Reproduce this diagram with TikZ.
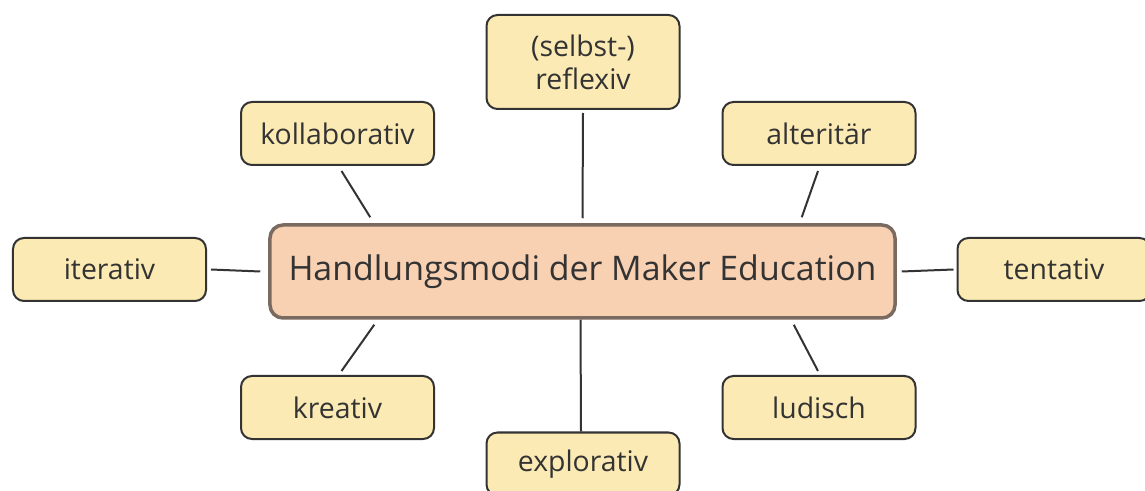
\documentclass[tikz,border=0pt]{standalone}
\usepackage{fontspec}
\setmainfont{Open Sans}
\usepackage{tikz}
\usetikzlibrary{positioning}
\usepackage{xcolor}
\definecolor{modefill}{HTML}{FCEAB4}
\definecolor{hubfill}{HTML}{F8D0B2}
\definecolor{hubline}{HTML}{7A6A60}
\definecolor{ink}{HTML}{333333}

\tikzset{
  modebox/.style={draw=ink,line width=2bp,fill=modefill,rounded corners=11bp,
    minimum width=193bp,minimum height=63bp,text=ink,align=center,
    font=\fontsize{28.5}{33}\selectfont,inner sep=0pt},
  hubbox/.style={draw=hubline,line width=3.5bp,fill=hubfill,rounded corners=13bp,
    minimum width=625bp,minimum height=93bp,text=ink,
    font=\fontsize{34}{40}\selectfont,inner sep=0pt},
  link/.style={draw=ink,line width=2bp}
}

\begin{document}
\begin{tikzpicture}[x=1bp,y=1bp]
\useasboundingbox (0,0) rectangle (1145,-491);
% centre
\node[hubbox] (hub) at (582.5,-271.5) {Handlungsmodi der Maker Education};
% modes around it
\node[modebox,minimum height=94bp] (refl) at (583,-62) {(selbst-)\\reflexiv};
\node[modebox] (kol) at (337.5,-133.5) {kollaborativ};
\node[modebox] (alt) at (819,-133.5) {alteritär};
\node[modebox] (iter) at (109.5,-269.5) {iterativ};
\node[modebox] (tent) at (1054,-269.5) {tentativ};
\node[modebox] (krea) at (337.5,-407.5) {kreativ};
\node[modebox] (lud) at (819,-407.5) {ludisch};
\node[modebox] (expl) at (583,-464) {explorativ};
% connectors
\draw[link] ([yshift=-3bp]refl.south) -- ([yshift=5bp]hub.north);
\draw[link] ([xshift=4bp,yshift=-5bp]kol.south) -- ([xshift=102bp,yshift=6bp]hub.north west);
\draw[link] ([xshift=-1bp,yshift=-5bp]alt.south) -- ([xshift=-95bp,yshift=6bp]hub.north east);
\draw[link] ([xshift=4bp]iter.east) -- ([xshift=-8bp]hub.west);
\draw[link] ([xshift=5bp]hub.east) -- ([xshift=-3bp]tent.west);
\draw[link] ([xshift=106bp,yshift=-5bp]hub.south west) -- ([xshift=4bp,yshift=4bp]krea.north);
\draw[link] ([xshift=-103bp,yshift=-5bp]hub.south east) -- ([xshift=-1bp,yshift=4bp]lud.north);
\draw[link] ([xshift=-2bp]hub.south) -- ([xshift=-2bp]expl.north);
\end{tikzpicture}
\end{document}
